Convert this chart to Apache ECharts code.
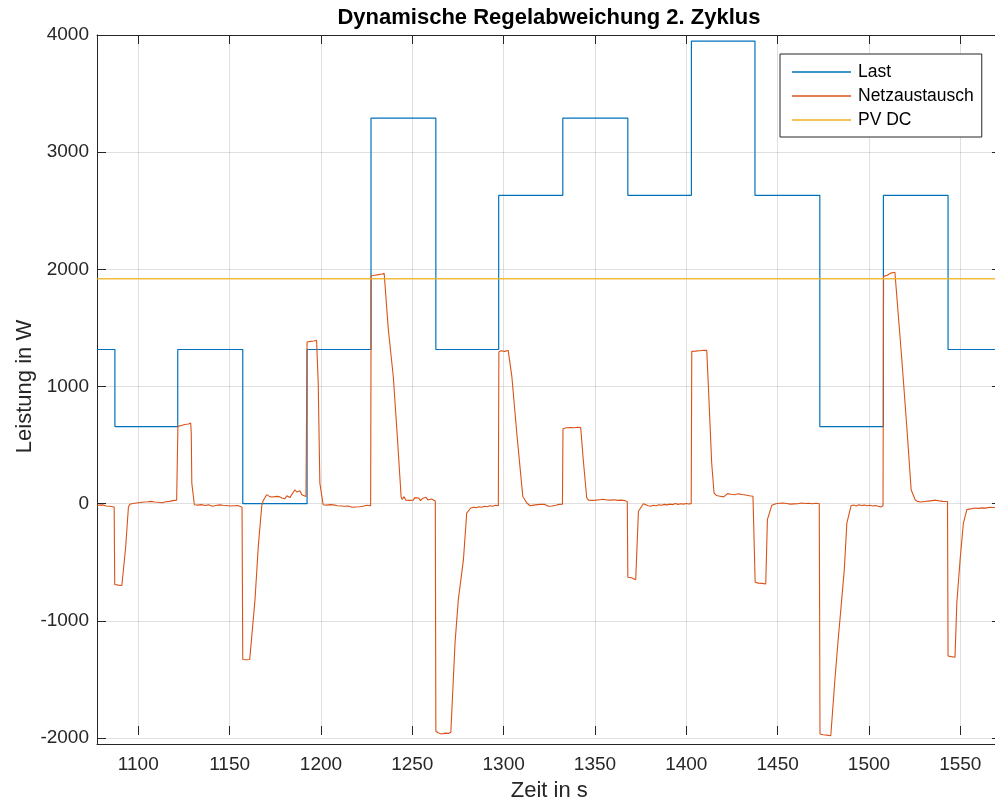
<!DOCTYPE html>
<html>
<head>
<meta charset="utf-8">
<script src="https://cdn.jsdelivr.net/npm/echarts@6/dist/echarts.min.js"></script>
<style>
html,body{margin:0;padding:0;background:#fff;}
#chart{width:995px;height:807px;}
</style>
</head>
<body>
<div id="chart"></div>
<script>
// ---- data ----
const titleText = 'Dynamische Regelabweichung 2. Zyklus';
const xName = 'Zeit in s';
const yName = 'Leistung in W';
const seriesNames = ['Last', 'Netzaustausch', 'PV DC'];

const xTicksMin = 1100, xTicksMax = 1550, xTickStep = 50;
const yTicksMin = -2000, yTicksMax = 4000, yTickStep = 1000;
const xDataMin = 1077.4, xDataMax = 1569.0;
const yDataMin = -2051, yDataMax = 4000;

// Last: level starting at each time (step function)
const lastTime  = [1077.4, 1087.2, 1121.6, 1157.2, 1192.4, 1227.4, 1262.9, 1297.3, 1332.4, 1368.0, 1402.8, 1437.6, 1473.1, 1507.9, 1543.3, 1572.3];
const lastValue = [1316,   658,    1316,   0,      1316,   3290,   1316,   2632,   3290,   2632,   3948,   2632,   658,    2632,   1316,   1316];

// Netzaustausch
const netzTime = [
 1077.4,1078.5,1079.5,1080.5,1081.5,1082.5,1083.5,1084.5,1085.5,1086.8,
 1087.1,1088.0,1089.0,1090.0,1091.0,1091.8,1093.1,1094.6,1095.4,
 1096,1097,1098,1099,1100,1101,1102,1103,1104,1105,1106,1107,1108,1109,1110,1111,1112,1113,1114,1115,1116,1117,1118,1119,1120,1121,1121.5,
 1121.7,1122.5,1123.5,1124.5,1125.5,1126.5,1127.5,1128.7,1129.0,1129.3,1130.7,1131.5,
 1132.5,1133.5,1134.5,1135.5,1136.5,1137.5,1138.5,1139.5,1140.5,1141.5,1142.5,1143.5,1144.5,1145.5,1146.5,1147.5,1148.5,1149.5,1150.5,1151.5,1152.5,1153.5,1154.5,1155.5,1156.8,
 1157.2,1158.0,1159,1160,1161,1161.7,1163.9,1165.7,1167.6,1168.5,1170.3,
 1171.2,1172,1173.1,1174,1175.8,1176.8,1177.5,1178.6,1179.5,1180.3,1181.3,1182.3,1183,1184,1185,1185.8,1186.7,1187.6,1188.5,1189.5,1190.5,1191.8,1192.2,
 1192.4,1193.3,1194.3,1195.3,1196.3,1197.6,1198.5,1199.4,1201.2,1202,
 1203,1204,1205,1206,1207,1208,1209,1210,1211,1212,1213,1214,1215,1216,1217,1218,1219,1220,1221,1222,1223,1224,1225,1226,1227.2,
 1227.5,1228.5,1229.5,1230.5,1231.5,1232.5,1233.5,1234.6,1236.9,1239.6,1241.8,1243.9,1244.5,1245.5,1246.5,
 1247.5,1248.5,1249.5,1250.5,1251.5,1252.5,1253.5,1254.5,1255.5,1256.5,1257.5,1258.5,1259.5,1260.5,1261.5,1262.6,
 1262.9,1264,1265,1266,1267,1268,1269,1270,1271.1,1273.4,1275.2,1278.0,1279.8,1282.0,
 1283.5,1285,1286.5,1288,1289.5,1291,1292.5,1294,1295.5,1297.1,
 1297.4,1298.5,1299.5,1300.5,1301.5,1302.5,1303.5,1304.5,1307.2,1310.5,1312.7,
 1313.5,1314.5,1315.5,1316.5,1317.5,1318.5,1319.5,1320.5,1321.5,1322.5,1323.5,1324.5,1325.5,1326.5,1327.5,1328.5,1329.5,1330.5,1331.5,1332.2,
 1332.5,1333.5,1334.5,1335.5,1336.5,1337.5,1338.5,1339.5,1340.5,1341.5,1342.2,1343.6,1345.5,1346.5,
 1347.5,1348.5,1349.5,1350.5,1351.5,1352.5,1353.5,1354.5,1355.5,1356.5,1357.5,1358.5,1359.5,1360.5,1361.5,1362.5,1363.5,1364.5,1365.5,1366.5,1367.7,
 1368.0,1369,1370,1371,1372.3,1372.9,1373.8,1376.5,1379.2,
 1380.5,1382,1383.5,1385,1386.5,1388,1389.5,1391,1392.5,1394,1395.5,1397,1398.5,1400,1401.5,1402.7,
 1403.0,1404,1405,1406,1407,1408,1409,1410,1411.2,1412.1,1413.9,1415.2,1416.5,
 1417.5,1418.5,1419.5,1420.5,1421.5,1422.5,1423.5,1424.5,1425.5,1426.5,1427.5,1428.5,1429.5,1430.5,1431.5,1432.5,1433.5,1434.5,1435.5,1436.5,1437.4,
 1437.7,1438.5,1439.5,1440.5,1441.5,1442.5,1443.5,1444.4,1446.8,1449,
 1450,1451,1452,1453,1454,1455,1456,1457,1458,1459,1460,1461,1462,1463,1464,1465,1466,1467,1468,1469,1470,1471,1472,1472.8,
 1473.2,1474,1475,1476,1477,1478,1479.1,1481.5,1483.3,1484.6,1486.5,1487.9,1490.2,
 1491.5,1493,1494.5,1496,1497.5,1499,1500.5,1502,1503.5,1505,1506.5,1507.7,
 1508.0,1509,1510,1511,1512,1513,1514.2,1518.0,1520.7,1523.1,1525.3,
 1526.5,1527.5,1528.5,1529.5,1530.5,1531.5,1532.5,1533.5,1534.5,1535.5,1536.5,1537.5,1538.5,1539.5,1540.5,1541.5,1543.0,
 1543.3,1544,1545,1546,1547.1,1548.1,1549.9,1551.7,1553.6,1558.1,
 1559,1560,1561,1562,1563,1564,1565,1566,1567,1568,1569,1570,1571,1572.3
];
const netzValue = [
 -18,-12,-16,-10,-14,-20,-15,-22,-25,-28,
 -690,-700,-695,-702,-698,-700,-370,-30,-5,
 8,2,12,6,18,10,4,14,8,16,10,20,6,14,22,12,18,8,24,16,30,20,34,26,42,30,35,
 660,672,668,685,676,690,680,688,600,176,-9,-25,
 -12,-28,-8,-20,-15,-24,-10,-18,-22,-12,-16,-20,-10,-18,-14,-22,-16,-12,-20,-15,-18,-22,-16,-20,-30,
 -1330,-1340,-1332,-1338,-1330,-1320,-819,-364,-17,30,77,
 85,60,57,66,62,48,58,49,55,42,68,63,52,77,90,119,100,102,110,77,70,62,60,
 1380,1392,1385,1398,1388,1395,1029,176,-9,-18,
 -12,-20,-8,-16,-10,-14,-18,-12,-20,-15,-22,-28,-20,-26,-30,-24,-28,-20,-26,-18,-22,-16,-14,-20,-18,
 1945,1958,1950,1965,1955,1970,1960,1966,1484,1086,574,57,35,60,30,
 42,28,45,30,52,35,48,26,44,38,55,32,46,40,30,22,
 -1940,-1955,-1945,-1965,-1950,-1958,-1945,-1960,-1950,-1188,-819,-478,-80,-37,
 -30,-34,-26,-30,-22,-26,-18,-22,-14,-18,
 1295,1305,1312,1300,1315,1308,1310,1086,603,62,6,
 -8,-18,-4,-12,-20,-8,-15,-5,-12,-6,-15,-22,-28,-20,-24,-14,-10,-6,-8,-4,
 640,652,648,655,650,654,648,656,652,658,650,375,49,30,
 36,28,40,30,24,34,28,38,26,32,22,30,26,34,20,28,22,30,18,26,16,
 -628,-636,-632,-640,-650,-421,-65,0,-17,
 -22,-14,-18,-10,-14,-6,-10,-4,-8,2,-6,0,-4,2,-2,0,
 1300,1308,1302,1312,1305,1315,1308,1318,1310,1000,347,91,70,
 82,64,78,58,74,86,70,80,66,76,72,84,68,78,70,74,62,68,60,64,58,
 -670,-682,-678,-688,-680,-690,-685,-136,-14,0,
 -6,4,-2,6,-4,2,8,-4,4,-2,10,0,-8,6,-4,2,-10,4,-6,0,-8,4,-2,0,
 -1965,-1980,-1972,-1988,-1975,-1985,-1980,-1473,-1132,-904,-563,-165,-17,
 -12,-20,-10,-16,-12,-18,-14,-20,-16,-22,-28,-18,
 1940,1955,1950,1962,1968,1972,1975,1228,659,119,34,
 20,32,14,28,18,30,22,12,26,18,30,16,24,12,20,14,18,
 -1300,-1312,-1305,-1318,-1310,-847,-478,-165,-51,-37,
 -32,-40,-30,-36,-28,-38,-34,-30,-36,-32,-38,-34,-30,-35
];

// PV DC
const pvTime  = [1077.4, 1572.3];
const pvValue = [1920, 1920];

// ---- chart ----
const zip = (a, b) => a.map((t, i) => [t, b[i]]);
const FONT = 'Liberation Sans, Arial, sans-serif';
const INK = '#262626';
const GRIDC = 'rgba(38,38,38,0.15)';
const plain = v => String(v);

const boxAxis = pos => ({
  type: 'value', position: pos,
  axisLine: {show: true, onZero: false, lineStyle: {color: INK, width: 1}},
  axisTick: {show: false}, axisLabel: {show: false}, splitLine: {show: false}
});

const chart = echarts.init(document.getElementById('chart'), null, {renderer: 'canvas'});
chart.setOption({
  animation: false,
  backgroundColor: '#ffffff',
  title: {
    text: titleText, left: 544, top: 2, textAlign: 'center',
    textStyle: {fontFamily: FONT, fontSize: 22, fontWeight: 'bold', color: '#000'}
  },
  legend: {
    orient: 'vertical', left: 780, top: 54,
    padding: [6, 8, 5, 12], itemGap: 0,
    itemWidth: 59, itemHeight: 1.5, icon: 'rect',
    backgroundColor: '#fff', borderColor: INK, borderWidth: 1,
    textStyle: {fontFamily: FONT, fontSize: 17.5, color: '#000', lineHeight: 24, padding: [0,0,0,2]},
    data: seriesNames
  },
  grid: [
    {left: 97, right: 0, top: 35, bottom: 63},
    {left: 138.3, right: 34.7, top: 35, bottom: 63},
    {left: 97, right: 0, top: 35, bottom: 69}
  ],
  xAxis: [
    Object.assign(boxAxis('bottom'), {gridIndex: 0, min: xDataMin, max: xDataMax}),
    Object.assign(boxAxis('top'), {gridIndex: 0, min: xDataMin, max: xDataMax}),
    {gridIndex: 1, type: 'value', min: xTicksMin, max: xTicksMax, interval: xTickStep, position: 'bottom',
     axisLine: {show: false},
     axisTick: {show: true, inside: true, length: 9, lineStyle: {color: INK}},
     axisLabel: {show: true, margin: 20, fontFamily: FONT, fontSize: 19, color: INK, formatter: plain},
     splitLine: {show: true, lineStyle: {color: GRIDC, width: 1}},
     name: xName, nameLocation: 'middle', nameGap: 45, nameMoveOverlap: false,
     nameTextStyle: {fontFamily: FONT, fontSize: 22, color: INK}},
    {gridIndex: 1, type: 'value', min: xTicksMin, max: xTicksMax, interval: xTickStep, position: 'top',
     axisLine: {show: false},
     axisTick: {show: true, inside: true, length: 9, lineStyle: {color: INK}},
     axisLabel: {show: false}, splitLine: {show: false}},
    {gridIndex: 2, type: 'value', min: 0, max: 1, show: false}
  ],
  yAxis: [
    Object.assign(boxAxis('left'), {gridIndex: 0, min: yDataMin, max: yDataMax}),
    {gridIndex: 1, type: 'value', min: 0, max: 1, show: false},
    {gridIndex: 2, type: 'value', min: yTicksMin, max: yTicksMax, interval: yTickStep, position: 'left',
     axisLine: {show: false},
     axisTick: {show: true, inside: true, length: 9, lineStyle: {color: INK}},
     axisLabel: {show: true, margin: 8, fontFamily: FONT, fontSize: 19, color: INK, formatter: plain},
     splitLine: {show: true, lineStyle: {color: GRIDC, width: 1}},
     name: yName, nameLocation: 'middle', nameGap: 61, nameRotate: 90, nameMoveOverlap: false,
     nameTextStyle: {fontFamily: FONT, fontSize: 22, color: INK}},
    {gridIndex: 2, type: 'value', min: yTicksMin, max: yTicksMax, interval: yTickStep, position: 'right', offset: 6,
     axisLine: {show: false},
     axisTick: {show: true, inside: true, length: 9, lineStyle: {color: INK}},
     axisLabel: {show: false}, splitLine: {show: false}}
  ],
  series: [
    {name: seriesNames[0], type: 'line', xAxisIndex: 0, yAxisIndex: 0, step: 'end',
     data: zip(lastTime, lastValue), showSymbol: false, symbol: 'none',
     lineStyle: {color: '#0072BD', width: 1.2}, itemStyle: {color: '#0072BD'}},
    {name: seriesNames[1], type: 'line', xAxisIndex: 0, yAxisIndex: 0,
     data: zip(netzTime, netzValue), showSymbol: false, symbol: 'none',
     lineStyle: {color: '#D95319', width: 1.1}, itemStyle: {color: '#D95319'}},
    {name: seriesNames[2], type: 'line', xAxisIndex: 0, yAxisIndex: 0,
     data: zip(pvTime, pvValue), showSymbol: false, symbol: 'none',
     lineStyle: {color: '#EDB120', width: 1.6, opacity: 0.85}, itemStyle: {color: '#EDB120'}}
  ]
});
</script>
</body>
</html>
